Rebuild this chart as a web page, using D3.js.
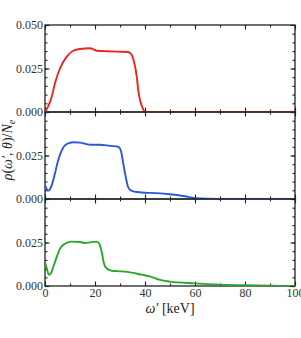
<!DOCTYPE html>
<html>
<head>
<meta charset="utf-8">
<script src="https://cdn.jsdelivr.net/npm/d3@7"></script>
<style>
  body { margin: 0; background: #fff; }
  .tick text { font-family: "Liberation Serif", serif; font-size: 12px; fill: #333; }
  .lbl { font-family: "Liberation Serif", serif; font-size: 14px; fill: #222; }
</style>
</head>
<body>
<div class="chart"></div>
<script>
// chart data (keV, rho/Ne)
var redE   = [0, 1.3, 2.7, 4, 6, 8.7, 11.3, 14, 18, 19.3, 20.7, 24.7, 28.7, 33.3, 34.7, 35.6, 36.7, 37.3, 38, 39.1, 40, 50, 100];
var redV   = [0, 0.0034, 0.0088, 0.0165, 0.025, 0.0318, 0.0352, 0.0362, 0.0366, 0.036, 0.0352, 0.0349, 0.0347, 0.0345, 0.0328, 0.029, 0.0203, 0.0126, 0.0069, 0.0021, 0, 0, 0];

var blueE  = [0, 0.7, 1.3, 2, 2.7, 4, 5.3, 6.7, 8.7, 11.3, 14, 18, 22, 26, 29.3, 30.3, 31.3, 32.4, 33.3, 34.7, 36.7, 40, 42, 50, 55.3, 60, 70, 100];
var blueV  = [0.008, 0.0056, 0.0048, 0.0056, 0.008, 0.0148, 0.0224, 0.028, 0.0316, 0.0326, 0.0324, 0.0312, 0.0312, 0.0305, 0.03, 0.028, 0.0205, 0.0119, 0.0067, 0.0046, 0.004, 0.0036, 0.0035, 0.0027, 0.0017, 0.0005, 0.0001, 0];

var greenE = [0, 0.7, 1.6, 2.3, 3.3, 4.7, 6, 8, 10.7, 14, 16, 18, 20.7, 21.7, 22.7, 23.6, 24.7, 26.7, 30.7, 34.7, 38.7, 42, 46, 50, 60, 70, 80, 90, 100];
var greenV = [0.0138, 0.01, 0.0065, 0.0071, 0.0109, 0.0167, 0.0215, 0.0243, 0.0255, 0.0253, 0.0247, 0.0251, 0.0255, 0.0243, 0.0195, 0.0128, 0.01, 0.0088, 0.0084, 0.0077, 0.0065, 0.0055, 0.0035, 0.0025, 0.0015, 0.0008, 0.0004, 0.0002, 0];

var colors = ["#e8281d", "#2b57d8", "#27a828"];
var xTickLabels = [0, 20, 40, 60, 80, 100];

// Set up our chart
var svgWidth = 301;
var svgHeight = 338;
var margin = { top: 25, left: 45 };
var width = 250;
var panelH = 87;

var svg = d3.select(".chart")
    .append("svg")
    .attr("width", svgWidth)
    .attr("height", svgHeight);

var x = d3.scaleLinear().domain([0, 100]).range([0, width]);

var panels = [
  { e: redE, v: redV, color: colors[0], yTicks: [0, 0.025, 0.05] },
  { e: blueE, v: blueV, color: colors[1], yTicks: [0, 0.025] },
  { e: greenE, v: greenV, color: colors[2], yTicks: [0, 0.025] }
];

svg.append("defs").append("clipPath").attr("id", "clip")
  .append("rect").attr("width", width).attr("height", panelH);

panels.forEach(function(p, i) {
  var g = svg.append("g")
      .attr("transform", `translate(${margin.left},${margin.top + i * panelH})`);

  var y = d3.scaleLinear().domain([0, 0.05]).range([panelH, 0]);

  // curve
  var line = d3.line()
      .x((d, k) => x(p.e[k]))
      .y(d => y(d))
      .curve(d3.curveMonotoneX);

  // inward ticks: minor then major
  var xMinor = d3.range(0, 101, 10), xMajor = d3.range(0, 101, 20);
  var yMinor = d3.range(0, 0.0501, 0.005), yMajor = [0, 0.025, 0.05];
  function tickAxis(axis, vals, len, tr) {
    g.append("g").attr("transform", tr)
      .call(axis.tickValues(vals).tickSize(len).tickFormat(""))
      .call(s => s.select(".domain").remove())
      .selectAll("line").attr("stroke", "#222").attr("stroke-width", 1.1);
  }
  tickAxis(d3.axisBottom(x), xMinor, -2.5, `translate(0,${panelH})`);
  tickAxis(d3.axisBottom(x), xMajor, -4.5, `translate(0,${panelH})`);
  tickAxis(d3.axisTop(x), xMinor, -2.5, "translate(0,0)");
  tickAxis(d3.axisTop(x), xMajor, -4.5, "translate(0,0)");
  tickAxis(d3.axisLeft(y), yMinor, -2.5, "translate(0,0)");
  tickAxis(d3.axisLeft(y), yMajor, -4.5, "translate(0,0)");
  tickAxis(d3.axisRight(y), yMinor, -2.5, `translate(${width},0)`);
  tickAxis(d3.axisRight(y), yMajor, -4.5, `translate(${width},0)`);

  // frame
  g.append("rect").attr("width", width).attr("height", panelH)
    .attr("fill", "none").attr("stroke", "#222").attr("stroke-width", 1.3);

  g.append("path")
    .datum(p.v)
    .attr("clip-path", "url(#clip)")
    .attr("fill", "none")
    .attr("stroke", p.color)
    .attr("stroke-width", 1.9)
    .attr("d", line);

  // y labels
  g.append("g")
    .call(d3.axisLeft(y).tickValues(p.yTicks).tickSize(0).tickPadding(2).tickFormat(d3.format(".3f")))
    .call(s => s.select(".domain").remove());

  if (i === 2) {
    g.append("g")
      .attr("transform", `translate(0,${panelH})`)
      .call(d3.axisBottom(x).tickValues(xTickLabels).tickSize(0).tickPadding(2))
      .call(s => s.select(".domain").remove());
  }
});

// Create axes labels
var xl = svg.append("text").attr("class", "lbl")
  .attr("x", margin.left + width / 2).attr("y", 313)
  .attr("text-anchor", "middle");
xl.append("tspan").attr("font-style", "italic").text("ω′");
xl.append("tspan").text(" [keV]");

var yl = svg.append("text").attr("class", "lbl")
  .attr("transform", "translate(12,150) rotate(-90)")
  .attr("text-anchor", "middle");
yl.append("tspan").attr("font-style", "italic").text("ρ");
yl.append("tspan").text("(");
yl.append("tspan").attr("font-style", "italic").text("ω′");
yl.append("tspan").text(", ");
yl.append("tspan").attr("font-style", "italic").text("θ");
yl.append("tspan").text(")/");
yl.append("tspan").attr("font-style", "italic").text("N");
yl.append("tspan").attr("font-style", "italic").attr("font-size", "10px").attr("dy", 3).text("e");
</script>
</body>
</html>
